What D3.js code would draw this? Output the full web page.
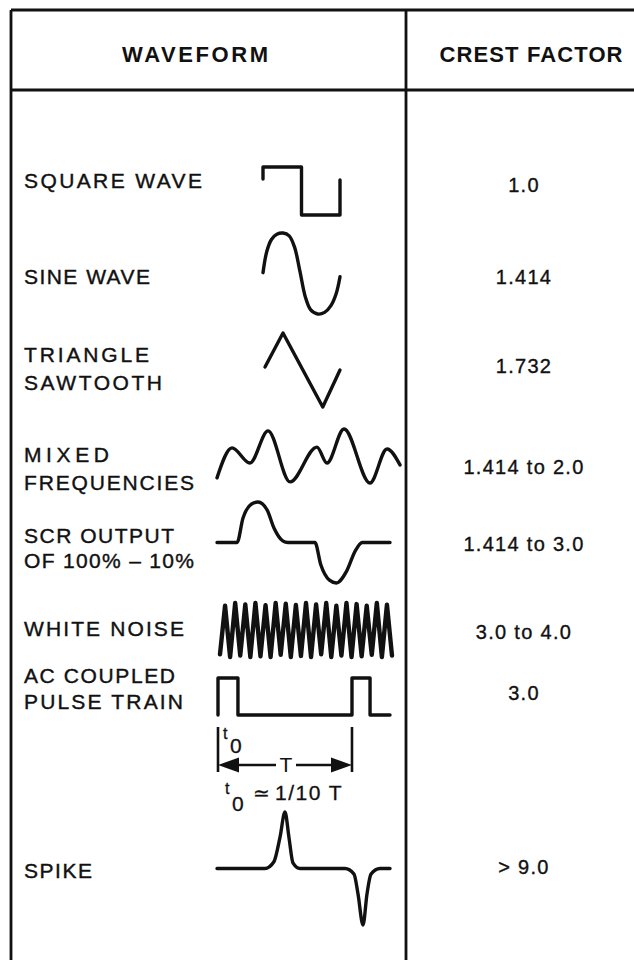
<!DOCTYPE html>
<html>
<head>
<meta charset="utf-8">
<script src="https://cdn.jsdelivr.net/npm/d3@7/dist/d3.min.js"></script>
<style>
  body { margin: 0; background: #fff; }
  text { font-family: "Liberation Sans", Arial, sans-serif; fill: #111; }
</style>
</head>
<body>
<div id="chart-div"></div>
<script>
// ---- data ----
var headers = ["WAVEFORM", "CREST FACTOR"];
var waveNames = [
  ["SQUARE WAVE"],
  ["SINE WAVE"],
  ["TRIANGLE", "SAWTOOTH"],
  ["MIXED", "FREQUENCIES"],
  ["SCR OUTPUT", "OF 100% \u2013 10%"],
  ["WHITE NOISE"],
  ["AC COUPLED", "PULSE TRAIN"],
  ["SPIKE"]
];
var crestFactors = ["1.0", "1.414", "1.732", "1.414 to 2.0", "1.414 to 3.0", "3.0 to 4.0", "3.0", "> 9.0"];

// waveform sketches: [t (0..1 across the cell), level (-1..1)]
var squareWave = [[0, 0.5], [0, 1], [0.5, 1], [0.5, -1], [1, -1], [1, 0.46]];
var sineWave = [[0, 0.02], [0.05, 0.55], [0.11, 0.84], [0.18, 0.97], [0.26, 1], [0.34, 0.93], [0.41, 0.65],
                [0.48, 0.05], [0.55, -0.58], [0.62, -0.9], [0.71, -1], [0.8, -0.96], [0.88, -0.8], [0.95, -0.5], [1, -0.08]];
var triangleWave = [[0, 0.08], [0.24, 1], [0.77, -1], [1, 0]];
var mixedWave = [[0, -0.81], [0.082, 0.30], [0.18, -0.26], [0.279, 0.93], [0.399, -0.96], [0.546, 0.33],
                 [0.601, -0.26], [0.694, 1], [0.836, -1], [0.929, 0.26], [1, -0.33]];
var scrWave = [[0, 0], [0.116, 0], [0.15, 0.6], [0.2, 0.95], [0.237, 1], [0.29, 0.8], [0.33, 0.35], [0.38, 0.04], [0.41, 0], [0.566, 0],
               [0.6, -0.55], [0.65, -0.93], [0.69, -1], [0.75, -0.7], [0.8, -0.2], [0.84, 0], [1, 0]];
var noisePeaks = [0.9, 1, 0.95, 1, 0.92, 1, 0.97, 0.93, 1, 0.95, 1, 0.9, 1, 0.96, 0.9, 1, 0.94];
var noiseTroughs = [-0.9, -1, -0.95, -1, -0.97, -1, -0.92, -1, -0.96, -1, -0.9, -1, -0.95, -1, -0.97, -0.92, -1, -0.95];
var pulseTrain = [[0, -1], [0, 1], [0.116, 1], [0.116, -1], [0.779, -1], [0.779, 1], [0.884, 1], [0.884, -1], [1, -1]];
var spikeWave = [[0, 0], [0.277, 0], [0.329, 0.12], [0.364, 0.55], [0.393, 1], [0.416, 0.55], [0.439, 0.1], [0.48, 0],
                 [0.74, 0], [0.792, -0.1], [0.815, -0.45], [0.844, -1], [0.867, -0.45], [0.89, -0.1], [0.942, 0], [1, 0]];

// ---- layout ----
var W = 634, H = 960;
var tbl = { left: 11, top: 10, divider: 406, headBottom: 90 };
var labelX = 24;
var labelBaselines = [[188], [284], [362, 390], [462, 490], [543, 568], [636], [683, 709], [878]];
var labelWidths = [[178], [126], [125, 138], [85, 170], [150, 170], [160], [151, 159], [68]];
var valueX = 524;
var valueBaselines = [192, 284, 373, 474, 551, 639, 700, 874];
var waveBoxes = [
  { x0: 263, x1: 340, y0: 167, y1: 215, curve: d3.curveLinear },
  { x0: 263, x1: 340, y0: 233, y1: 314, curve: d3.curveCatmullRom },
  { x0: 265, x1: 340, y0: 333, y1: 407, curve: d3.curveLinear },
  { x0: 217, x1: 400, y0: 429, y1: 483, curve: d3.curveMonotoneX },
  { x0: 217, x1: 390, y0: 502, y1: 583, curve: d3.curveMonotoneX },
  { x0: 220, x1: 392, y0: 603, y1: 657, curve: d3.curveLinear },
  { x0: 218, x1: 390, y0: 678, y1: 715, curve: d3.curveLinear },
  { x0: 217, x1: 390, y0: 812, y1: 925, curve: d3.curveMonotoneX }
];

// white noise: alternate trough / peak, evenly spaced
var noiseLevels = [];
noiseTroughs.forEach(function(v, i){
  noiseLevels.push(v);
  if (i < noisePeaks.length) noiseLevels.push(noisePeaks[i]);
});
var noiseIdx = d3.scaleLinear().domain([0, noiseLevels.length - 1]).range([0, 1]);
var noiseWave = noiseLevels.map(function(v, i){ return [noiseIdx(i), v]; });

var waves = [squareWave, sineWave, triangleWave, mixedWave, scrWave, noiseWave, pulseTrain, spikeWave];

var svg = d3.select("#chart-div").append("svg").attr("width", W).attr("height", H);

// ---- table rules ----
var rules = [
  [tbl.left, tbl.top, W, tbl.top],
  [tbl.left, tbl.headBottom, W, tbl.headBottom],
  [tbl.left, tbl.top, tbl.left, H],
  [tbl.divider, tbl.top, tbl.divider, H]
];
svg.selectAll(".rule").data(rules).enter().append("line")
  .attr("class", "rule")
  .attr("x1", function(d){ return d[0]; }).attr("y1", function(d){ return d[1]; })
  .attr("x2", function(d){ return d[2]; }).attr("y2", function(d){ return d[3]; })
  .style("stroke", "#111").style("stroke-width", 2.8);

// ---- headers ----
var headerX = [195, 531], headerW = [146, 183];
svg.selectAll(".header").data(headers).enter().append("text")
  .attr("class", "header")
  .attr("x", function(d, i){ return headerX[i] - headerW[i] / 2; })
  .attr("y", 62)
  .attr("textLength", function(d, i){ return headerW[i]; })
  .attr("lengthAdjust", "spacing")
  .style("font-size", "22px").style("font-weight", "bold")
  .text(function(d){ return d; });

// ---- labels ----
waveNames.forEach(function(lines, r){
  svg.selectAll(".label-" + r).data(lines).enter().append("text")
    .attr("class", "label-" + r)
    .attr("x", labelX)
    .attr("y", function(d, i){ return labelBaselines[r][i]; })
    .attr("textLength", function(d, i){ return labelWidths[r][i]; })
    .attr("lengthAdjust", "spacing")
    .style("font-size", "21px")
    .style("stroke", "#111").style("stroke-width", 0.4)
    .text(function(d){ return d; });
});

// ---- crest factor values ----
svg.selectAll(".value").data(crestFactors).enter().append("text")
  .attr("class", "value")
  .attr("x", valueX)
  .attr("y", function(d, i){ return valueBaselines[i]; })
  .attr("text-anchor", "middle")
  .style("font-size", "20px").style("letter-spacing", "1.3px")
  .style("stroke", "#111").style("stroke-width", 0.35)
  .text(function(d){ return d; });

// ---- waveforms ----
var scales = [];
waves.forEach(function(pts, r){
  var b = waveBoxes[r];
  var x = d3.scaleLinear().domain([0, 1]).range([b.x0, b.x1]);
  var y = d3.scaleLinear().domain([-1, 1]).range([b.y1, b.y0]);
  scales.push({ x: x, y: y });
  var line = d3.line().x(function(d){ return x(d[0]); }).y(function(d){ return y(d[1]); }).curve(b.curve);
  svg.append("path")
    .attr("d", line(pts))
    .style("fill", "none")
    .style("stroke", "#111")
    .style("stroke-width", r == 5 ? 4.4 : 3.4)
    .style("stroke-linejoin", "round")
    .style("stroke-linecap", "round");
});

// ---- pulse period annotation ----
var px = scales[6].x;
var tA = px(pulseTrain[0][0]), tB = px(pulseTrain[4][0]);
var tickTop = 727, tickBottom = 772, arrowY = 765, head = 21, headH = 7.5;
var mid = (tA + tB) / 2;
var ann = svg.append("g").style("stroke", "#111").style("stroke-width", 2.6);
[tA, tB].forEach(function(xv){
  ann.append("line").attr("x1", xv).attr("x2", xv).attr("y1", tickTop).attr("y2", tickBottom);
});
ann.append("line").attr("x1", tA + head).attr("x2", mid - 9).attr("y1", arrowY).attr("y2", arrowY);
ann.append("line").attr("x1", mid + 11).attr("x2", tB - head).attr("y1", arrowY).attr("y2", arrowY);
ann.append("path").style("stroke", "none").style("fill", "#111")
  .attr("d", "M" + tA + "," + arrowY + "L" + (tA + head) + "," + (arrowY - headH) + "L" + (tA + head) + "," + (arrowY + headH) + "Z");
ann.append("path").style("stroke", "none").style("fill", "#111")
  .attr("d", "M" + tB + "," + arrowY + "L" + (tB - head) + "," + (arrowY - headH) + "L" + (tB - head) + "," + (arrowY + headH) + "Z");
svg.append("text").attr("x", mid + 1).attr("y", tickBottom).attr("text-anchor", "middle")
  .style("font-size", "21px").text("T");

var t0 = svg.append("text").style("font-size", "21px").style("stroke", "#111").style("stroke-width", 0.3);
t0.append("tspan").attr("x", tA + 5).attr("y", 739).style("font-size", "16px").text("t");
t0.append("tspan").attr("x", tA + 12).attr("y", 753).text("0");

var rel = svg.append("text").style("font-size", "21px").style("stroke", "#111").style("stroke-width", 0.3);
rel.append("tspan").attr("x", 225).attr("y", 794).style("font-size", "16px").text("t");
rel.append("tspan").attr("x", 232).attr("y", 811).text("0");
rel.append("tspan").attr("x", 253).attr("y", 800).style("font-size", "20px").text("\u2243");
rel.append("tspan").attr("x", 275).attr("y", 800).style("letter-spacing", "1.5px").text("1/10 T");
</script>
</body>
</html>
